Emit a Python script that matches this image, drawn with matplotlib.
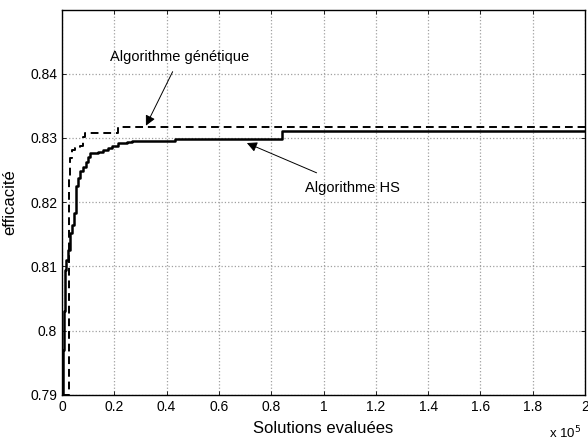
import matplotlib
matplotlib.use("Agg")
import matplotlib.pyplot as plt

# Data (x in units of 1e5 evaluated solutions)
hs_x = [0.0, 0.002, 0.006, 0.010, 0.015, 0.023, 0.031, 0.038, 0.046, 0.052, 0.055,
        0.061, 0.069, 0.080, 0.092, 0.100, 0.107, 0.138, 0.157, 0.176, 0.190, 0.214,
        0.249, 0.268, 0.432, 0.535, 0.840, 2.0]
hs_y = [0.790, 0.797, 0.803, 0.8095, 0.811, 0.8125, 0.8152, 0.8165, 0.8183, 0.8205, 0.8225,
        0.8238, 0.8249, 0.8255, 0.8262, 0.8271, 0.8276, 0.8278, 0.8281, 0.8285, 0.8287, 0.8292,
        0.8293, 0.8295, 0.8298, 0.8299, 0.8311, 0.8311]

ga_x = [0.0, 0.025, 0.027, 0.031, 0.040, 0.050, 0.069, 0.080, 0.088, 0.216, 2.0]
ga_y = [0.790, 0.8172, 0.8235, 0.8269, 0.8281, 0.8284, 0.8287, 0.8302, 0.8307, 0.8317, 0.8317]

xticks = [0, 0.2, 0.4, 0.6, 0.8, 1.0, 1.2, 1.4, 1.6, 1.8, 2.0]
xtick_labels = ["0", "0.2", "0.4", "0.6", "0.8", "1", "1.2", "1.4", "1.6", "1.8", "2"]
yticks = [0.79, 0.80, 0.81, 0.82, 0.83, 0.84]
ytick_labels = ["0.79", "0.8", "0.81", "0.82", "0.83", "0.84"]

plt.rcParams['font.family'] = ['Liberation Sans', 'DejaVu Sans']

fig = plt.figure(figsize=(5.88, 4.42), dpi=100)
ax = fig.add_axes([62/588, 1 - 395/442, (585-62)/588, (395-10)/442])

ax.plot(hs_x, hs_y, color='black', lw=1.8, drawstyle='steps-post')
ax.plot(ga_x, ga_y, color='black', lw=1.4, ls=(0, (4, 2.5)), drawstyle='steps-post')

ax.set_xlim(0, 2.0)
ax.set_ylim(0.79, 0.8499)
ax.set_xticks(xticks)
ax.set_xticklabels(xtick_labels)
ax.set_yticks(yticks)
ax.set_yticklabels(ytick_labels)
ax.tick_params(direction='in', top=True, right=True, length=3, labelsize=10, width=0.6)
ax.grid(True, color='#a0a0a0', ls=':', lw=0.9)
for s in ax.spines.values():
    s.set_linewidth(1.0)

ax.set_xlabel("Solutions evaluées", fontsize=12, labelpad=5)
ax.set_ylabel("efficacité", fontsize=12, labelpad=9)

fig.text(565/588, 1 - 433/442, r"x 10$^5$", fontsize=9.5, ha='center', va='center')

ax.annotate("Algorithme génétique", xy=(0.321, 0.8319), xytext=(0.451, 0.8426),
            fontsize=10.5, ha='center', va='center',
            arrowprops=dict(arrowstyle='-|>', color='black', lw=0.7, mutation_scale=15,
                            shrinkA=4, shrinkB=0))
ax.annotate("Algorithme HS", xy=(0.707, 0.8292), xytext=(1.11, 0.8222),
            fontsize=10.5, ha='center', va='center',
            arrowprops=dict(arrowstyle='-|>', color='black', lw=0.7, mutation_scale=15,
                            shrinkA=10, shrinkB=0))

fig.savefig("out.png", dpi=100)
